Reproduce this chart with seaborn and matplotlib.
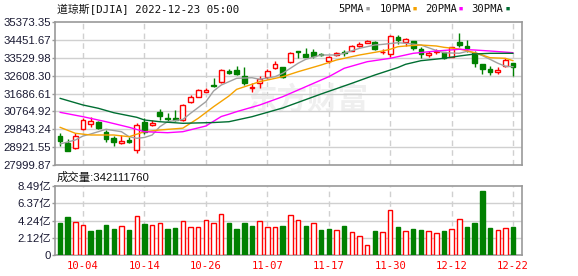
import matplotlib
matplotlib.use("Agg")
import matplotlib.pyplot as plt
import seaborn as sns
import numpy as np

# ---------------- data ----------------
dates = ["09-29", "09-30", "10-03", "10-04", "10-05", "10-06", "10-07", "10-10", "10-11", "10-12",
         "10-13", "10-14", "10-17", "10-18", "10-19", "10-20", "10-21", "10-24", "10-25", "10-26",
         "10-27", "10-28", "10-31", "11-01", "11-02", "11-03", "11-04", "11-07", "11-08", "11-09",
         "11-10", "11-11", "11-14", "11-15", "11-16", "11-17", "11-18", "11-21", "11-22", "11-23",
         "11-25", "11-28", "11-29", "11-30", "12-01", "12-02", "12-05", "12-06", "12-07", "12-08",
         "12-09", "12-12", "12-13", "12-14", "12-15", "12-16", "12-19", "12-20", "12-21", "12-22"]

opens = [29495, 29119, 28861, 29841, 30098, 30202, 29686, 29407, 29119, 29289,
         28773, 30232, 30062, 30733, 30439, 30439, 30320, 31233, 31522, 31779,
         32125, 32264, 32850, 32898, 32589, 31955, 32212, 32522, 33017, 33037,
         33311, 33893, 33723, 33811, 33700, 33378, 33672, 33811, 33893, 34151,
         34306, 34327, 33811, 33723, 34615, 34357, 34393, 33966, 33687, 33811,
         33811, 33584, 34342, 34136, 33790, 33207, 32950, 32810, 33104, 33275]
closes = [29253, 28737, 29495, 30320, 30269, 29892, 29325, 29186, 29253, 29210,
          30078, 29717, 30181, 30526, 30387, 30320, 31078, 31506, 31867, 31882,
          32073, 32898, 32733, 32700, 32212, 32037, 32419, 32847, 33207, 32560,
          33759, 33842, 33584, 33636, 33650, 33584, 33759, 33775, 34136, 34254,
          34393, 33965, 33842, 34651, 34445, 34496, 34017, 33708, 33759, 33878,
          33501, 34068, 34187, 34048, 33275, 32950, 32810, 32898, 33414, 33068]
highs = [29634, 29341, 29650, 30400, 30459, 30250, 29805, 29495, 29547, 29428,
         30181, 30408, 30320, 30872, 30666, 30836, 31145, 31594, 31919, 31950,
         32470, 32950, 32950, 33104, 33068, 32212, 32589, 32950, 33378, 33068,
         33811, 33893, 34017, 33966, 33760, 33620, 33842, 33929, 34187, 34342,
         34445, 34409, 33981, 34703, 34703, 34564, 34409, 34100, 33878, 33981,
         33842, 34100, 34790, 34445, 33893, 33207, 33104, 33068, 33532, 33275]
lows = [28980, 28715, 28840, 29800, 29944, 29850, 29171, 28995, 29100, 29119,
        28634, 29600, 30011, 30320, 30232, 30284, 30269, 31200, 31491, 31740,
        32030, 32230, 32676, 32640, 32150, 31779, 31986, 32420, 32934, 32480,
        33244, 33501, 33560, 33501, 33620, 33244, 33620, 33636, 33880, 34100,
        34275, 33929, 33723, 33584, 34239, 34136, 33929, 33501, 33584, 33708,
        33465, 33553, 34068, 33842, 33068, 32692, 32640, 32692, 33068, 32589]

volumes_yi = [3.97, 4.68, 4.02, 3.65, 2.95, 3.08, 3.69, 3.20, 3.53, 3.08,
              4.80, 3.81, 3.69, 3.94, 3.20, 3.32, 4.18, 3.45, 3.45, 4.31,
              3.94, 5.04, 3.97, 3.20, 3.97, 3.57, 4.18, 3.45, 3.45, 3.57,
              4.92, 4.31, 3.57, 3.94, 3.08, 3.20, 3.08, 3.57, 2.83, 2.34,
              1.23, 2.95, 2.83, 5.54, 3.45, 2.95, 3.20, 3.08, 2.95, 2.71,
              2.95, 3.20, 4.43, 3.45, 3.94, 7.87, 3.32, 3.08, 3.32, 3.42]
volume_dir = list("GGRRGGGGRG" "RGRRGGRRRR" "RRGGGGRRRG"
                  "RRGRGGRGRR" "RGRRGRGGRR" "GRRGGGGRRG")

ma5_idx = [0, 2, 3, 4, 6, 8, 9, 10, 11, 12, 13, 14, 15, 16, 17, 19, 20, 21, 22, 23, 25, 26, 28, 29,
           31, 32, 34, 36, 37, 39, 41, 42, 44, 45, 47, 49, 50, 52, 53, 54, 55, 56, 57, 58, 59]
ma5 = [29083, 29289, 29495, 29598, 29841, 29717, 29459, 29376, 29420, 29547, 29975, 30232, 30290,
       30350, 30666, 31264, 31815, 32125, 32295, 32470, 32500, 32420, 32553, 32730, 33244, 33450,
       33672, 33672, 33759, 34017, 34187, 34220, 34306, 34275, 34187, 33904, 33790, 33760, 33860,
       33790, 33640, 33450, 33250, 33090, 33068]
ma10_idx = [0, 2, 4, 7, 9, 11, 13, 16, 18, 20, 22, 23, 26, 29, 31, 34, 36, 39, 42, 43, 44, 45, 47,
            49, 50, 52, 53, 55, 56, 58, 59]
ma10 = [29944, 29634, 29547, 29547, 29459, 29717, 29805, 29900, 30408, 31006, 31558, 31900, 32295,
        32553, 32810, 33156, 33414, 33672, 33878, 33966, 34100, 34136, 34187, 34136, 34068, 33981,
        33893, 33672, 33532, 33501, 33378]
ma20_idx = [0, 3, 6, 9, 11, 14, 16, 19, 21, 22, 23, 26, 29, 32, 35, 37, 40, 43, 46, 49, 52, 54, 56, 59]
ma20 = [30717, 30490, 30232, 29944, 29717, 29665, 29717, 30011, 30500, 30620, 30750, 31093, 31521,
        32037, 32553, 32986, 33326, 33501, 33759, 33878, 33965, 33929, 33878, 33790]
ma30_idx = [0, 3, 5, 7, 10, 11, 13, 16, 20, 22, 25, 29, 34, 38, 41, 43, 44, 45, 47, 50, 52, 54, 56, 59]
ma30 = [31439, 31093, 30923, 30696, 30459, 30320, 30232, 30150, 30190, 30232, 30490, 30940, 31661,
        32212, 32640, 32898, 33027, 33192, 33378, 33501, 33620, 33723, 33759, 33759]

price_ticks = [27999.87, 28921.55, 29843.24, 30764.92, 31686.61, 32608.30, 33529.98, 34451.67, 35373.35]
vol_ticks_yi = [0, 2.12, 4.24, 6.37, 8.49]
vol_tick_labels = ["0", "2.12亿", "4.24亿", "6.37亿", "8.49亿"]
date_tick_labels = ["10-04", "10-14", "10-26", "11-07", "11-17", "11-30", "12-12", "12-22"]
title_text = "道琼斯[DJIA] 2022-12-23 05:00"
volume_title = "成交量:342111760"
ma_names = ["5PMA", "10PMA", "20PMA", "30PMA"]

# ---------------- style ----------------
sns.set_theme(style="white")
plt.rcParams["font.family"] = ["Liberation Sans", "Noto Sans CJK SC"]

RED = "#ff0000"
GREEN = "#008000"
MA_COLORS = ["#a0a0a0", "#f5a200", "#ff00ff", "#006e32"]
GRID = "#d0d0d0"
SPINE = "#999999"
LABEL = "#1a1a33"

W, H = 578, 276
fig = plt.figure(figsize=(W / 100, H / 100), dpi=100)
fig.patch.set_facecolor("white")

def box(x0, y0, x1, y1):
    return [x0 / W, 1 - y1 / H, (x1 - x0) / W, (y1 - y0) / H]

ax = fig.add_axes(box(55, 22, 522, 165))
axv = fig.add_axes(box(55, 186, 522, 255))

n = len(dates)
x = np.arange(n)
xlim = (-0.65, 60.16)
tick_pos = [dates.index(d) for d in date_tick_labels]

for a in (ax, axv):
    a.set_xlim(*xlim)
    a.set_facecolor("white")
    for s in a.spines.values():
        s.set_color(SPINE)
        s.set_linewidth(1.2)
    for t in tick_pos:
        a.axvline(t, color=GRID, lw=1, ls=(0, (4, 3)), zorder=0)
    a.tick_params(axis="y", length=2, width=1, color=SPINE, pad=1, labelsize=8.2,
                  labelcolor=LABEL, left=True)

# watermark
ax.text(0.54, 0.46, "东方财富", transform=ax.transAxes, ha="center", va="center",
        fontsize=22, fontweight="bold", color="#efefef", family=["Noto Sans CJK SC"], zorder=0)

# price panel
ax.set_ylim(price_ticks[0], price_ticks[-1])
ax.set_yticks(price_ticks)
ax.set_yticklabels([f"{v:.2f}" for v in price_ticks])
for v in price_ticks[1:-1]:
    ax.axhline(v, color=GRID, lw=1, zorder=0)
ax.set_xticks([])

up = [c >= o for o, c in zip(opens, closes)]
cols = [RED if u else GREEN for u in up]
ax.vlines(x, lows, highs, colors=cols, lw=1, zorder=2)
bottoms = [min(o, c) for o, c in zip(opens, closes)]
heights = [max(abs(c - o), 25) for o, c in zip(opens, closes)]
faces = ["white" if u else GREEN for u in up]
ax.bar(x, heights, bottom=bottoms, width=0.62, color=faces, edgecolor=cols, linewidth=1, zorder=3)

for idx, vals, c in zip([ma5_idx, ma10_idx, ma20_idx, ma30_idx], [ma5, ma10, ma20, ma30], MA_COLORS):
    sns.lineplot(x=idx, y=vals, ax=ax, color=c, lw=1.0, estimator=None, zorder=4)
ax.set_xlabel("")
ax.set_ylabel("")

# volume panel
vol = np.array(volumes_yi) * 1e8
vcols = [RED if d == "R" else GREEN for d in volume_dir]
vfaces = ["white" if d == "R" else GREEN for d in volume_dir]
axv.bar(x, vol, width=0.58, color=vfaces, edgecolor=vcols, linewidth=1, zorder=3)
axv.set_ylim(0, vol_ticks_yi[-1] * 1e8)
axv.set_yticks([v * 1e8 for v in vol_ticks_yi])
axv.set_yticklabels(vol_tick_labels)
for v in vol_ticks_yi[1:-1]:
    axv.axhline(v * 1e8, color=GRID, lw=1, zorder=0)
axv.set_xticks(tick_pos)
axv.set_xticklabels(date_tick_labels)
axv.tick_params(axis="x", length=0, pad=4, labelsize=7.6, labelcolor=RED)
for lab in axv.get_xticklabels():
    lab.set_family(["DejaVu Sans Mono"])

# titles / legend
fig.text(57 / W, 1 - 10 / H, title_text, ha="left", va="center", fontsize=7.8,
         family=["DejaVu Sans Mono", "Noto Sans CJK SC"], color="#111111")
fig.text(57 / W, 1 - 177 / H, volume_title, ha="left", va="center", fontsize=8.2,
         family=["Liberation Sans", "Noto Sans CJK SC"], color="#111111")
leg_x = [338, 380, 425, 471]
sq_x = [368, 415, 461, 508]
for name, lx, sx, c in zip(ma_names, leg_x, sq_x, MA_COLORS):
    fig.text(lx / W, 1 - 9 / H, name, ha="left", va="center", fontsize=7.6,
             family=["DejaVu Sans Mono"], color="#111111")
    fig.text(sx / W, 1 - 9 / H, "■", ha="center", va="center", fontsize=5, color=c)

fig.savefig("out.png", dpi=100, facecolor="white")
